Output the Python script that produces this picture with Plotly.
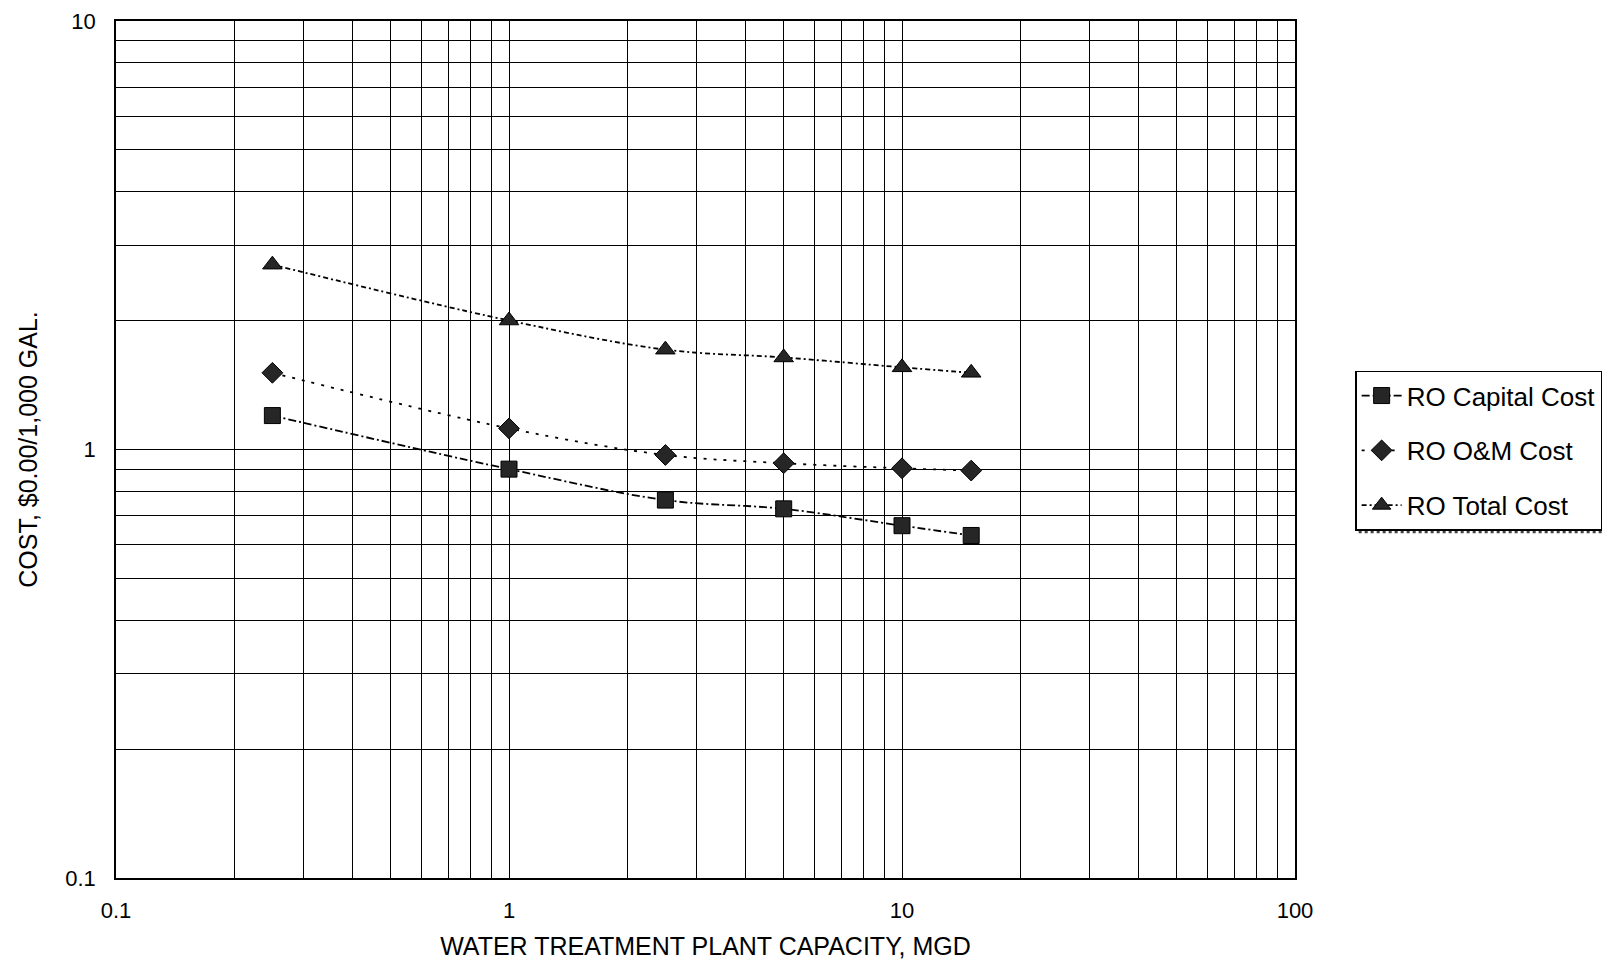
import plotly.graph_objects as go

capacity = [0.25, 1, 2.5, 5, 10, 15]
capital_cost = [1.20, 0.90, 0.762, 0.727, 0.664, 0.63]
om_cost = [1.51, 1.12, 0.971, 0.929, 0.904, 0.893]
total_cost = [2.70, 2.00, 1.71, 1.64, 1.555, 1.51]

series_names = ["RO Capital Cost", "RO O&M Cost", "RO Total Cost"]

x_major = [0.1, 1, 10, 100]
x_major_text = ["0.1", "1", "10", "100"]
y_major = [0.1, 1, 10]
y_major_text = ["0.1", "1", "10"]

x_minor = [m * d for d in [0.1, 1, 10] for m in range(2, 10)]
y_minor = [m * d for d in [0.1, 1] for m in range(2, 10)]

FONT = "Liberation Sans, Arial, sans-serif"
MK = "#262626"

fig = go.Figure()
fig.add_trace(go.Scatter(
    x=capacity, y=capital_cost, name=series_names[0], mode="lines+markers",
    line=dict(color="black", width=1.8, dash="8px,3px,2px,3px", shape="spline"),
    marker=dict(symbol="square", size=16, color=MK, line=dict(color="black", width=1)),
    legendgroup="a"))
fig.add_trace(go.Scatter(
    x=capacity, y=om_cost, name=series_names[1], mode="lines+markers",
    line=dict(color="black", width=1.8, dash="3px,7px", shape="spline"),
    marker=dict(symbol="diamond", size=16, color=MK, line=dict(color="black", width=1)),
    legendgroup="b"))
fig.add_trace(go.Scatter(
    x=capacity, y=total_cost, name=series_names[2], mode="lines+markers",
    line=dict(color="black", width=1.8, dash="5px,3px,2px,3px", shape="spline"),
    marker=dict(symbol="triangle-up", size=17, color=MK, line=dict(color="black", width=1)),
    legendgroup="c"))

fig.update_layout(
    width=1604, height=956,
    margin=dict(l=108, r=317, t=13, b=86, autoexpand=False),
    paper_bgcolor="white", plot_bgcolor="white",
    font=dict(family=FONT, size=22, color="black"),
    showlegend=True,
    legend=dict(
        x=1.051, y=0.592, xanchor="left", yanchor="top",
        bordercolor="black", borderwidth=1.5, bgcolor="white",
        font=dict(size=26, family=FONT, color="black"),
        traceorder="grouped", tracegroupgap=18,
        itemwidth=40,
    ),
)

# legend drop-shadow (dotted) like the reference
fig.add_shape(type="line", xref="paper", yref="paper",
              x0=1.054, x1=1.27, y0=0.404, y1=0.404,
              line=dict(color="#444", width=3, dash="dot"))

fig.update_xaxes(
    type="log", range=[-1, 2], automargin=False,
    tickmode="array", tickvals=x_major, ticktext=x_major_text,
    showgrid=True, gridcolor="black", gridwidth=1.3,
    showline=True, linecolor="black", linewidth=1.5, mirror=True,
    ticks="outside", ticklen=12, tickcolor="rgba(0,0,0,0)",
    tickfont=dict(size=22),
    minor=dict(tickmode="array", tickvals=x_minor, showgrid=True,
               gridcolor="black", gridwidth=1.3, ticks=""),
    title=dict(text="WATER TREATMENT PLANT CAPACITY, MGD", font=dict(size=25), standoff=15),
    zeroline=False,
)
fig.update_yaxes(
    type="log", range=[-1, 1], automargin=False,
    tickmode="array", tickvals=y_major, ticktext=y_major_text,
    showgrid=True, gridcolor="black", gridwidth=1.3,
    showline=True, linecolor="black", linewidth=1.5, mirror=True,
    ticks="outside", ticklen=14, tickcolor="rgba(0,0,0,0)",
    tickfont=dict(size=22),
    minor=dict(tickmode="array", tickvals=y_minor, showgrid=True,
               gridcolor="black", gridwidth=1.3, ticks=""),
    title=dict(text="COST, $0.00/1,000 GAL.", font=dict(size=25), standoff=21),
    zeroline=False,
)

fig.write_html("out.html")
